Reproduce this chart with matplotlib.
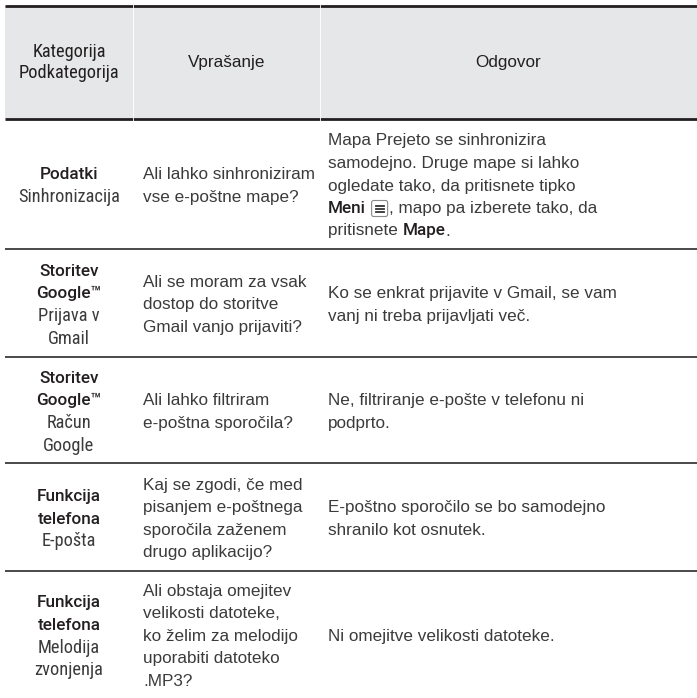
import matplotlib
matplotlib.use("Agg")
import matplotlib.pyplot as plt
from matplotlib import font_manager
from matplotlib.patches import Rectangle, FancyBboxPatch

# table content
headers = ["Kategorija\nPodkategorija", "Vprašanje", "Odgovor"]
categories = [["Podatki"], ["Storitev", "Google™"], ["Storitev", "Google™"],
              ["Funkcija", "telefona"], ["Funkcija", "telefona"]]
subcategories = [["Sinhronizacija"], ["Prijava v", "Gmail"], ["Račun", "Google"],
                 ["E-pošta"], ["Melodija", "zvonjenja"]]
questions = [
    ["Ali lahko sinhroniziram", "vse e-poštne mape?"],
    ["Ali se moram za vsak", "dostop do storitve", "Gmail vanjo prijaviti?"],
    ["Ali lahko filtriram", "e-poštna sporočila?"],
    ["Kaj se zgodi, če med", "pisanjem e-poštnega", "sporočila zaženem", "drugo aplikacijo?"],
    ["Ali obstaja omejitev", "velikosti datoteke,", "ko želim za melodijo",
     "uporabiti datoteko", ".MP3?"],
]
answers = [
    ["Mapa Prejeto se sinhronizira", "samodejno. Druge mape si lahko",
     "ogledate tako, da pritisnete tipko", "**Meni** [=], mapo pa izberete tako, da",
     "pritisnete **Mape**."],
    ["Ko se enkrat prijavite v Gmail, se vam", "vanj ni treba prijavljati več."],
    ["Ne, filtriranje e-pošte v telefonu ni", "podprto."],
    ["E-poštno sporočilo se bo samodejno", "shranilo kot osnutek."],
    ["Ni omejitve velikosti datoteke."],
]

# layout (pixels)
W, H = 697, 698
left = 5
col_x = [left, 133, 320, W]
head_top, head_bot = 6, 119
row_edges = [119, 249, 357, 463, 571, 698]
pitch = 22.5
fs = 12.3
fs_narrow = 13.2
txt_col = "#3b3b3b"

# pick fonts that exist
faces = {(f.name, f.weight) for f in font_manager.fontManager.ttflist}
names = {f[0] for f in faces}
body_font = "Liberation Sans"

narrow_font = body_font
for nm in ["Liberation Sans Narrow", "Roboto Condensed", "Archivo Narrow",
           "PT Sans Narrow", "Open Sans Condensed"]:
    if nm in names:
        narrow_font = nm
        break

bold_font, bold_w = body_font, "bold"
for nm in ["Roboto", "Inter", "Noto Sans"]:
    if (nm, 500) in faces:
        bold_font, bold_w = nm, 500
        break

fig = plt.figure(figsize=(W / 100, H / 100), dpi=100)
ax = fig.add_axes([0, 0, 1, 1])
ax.set_xlim(0, W)
ax.set_ylim(H, 0)
ax.axis("off")
renderer = fig.canvas.get_renderer()

# header
ax.add_patch(Rectangle((left, head_top), W - left, head_bot - head_top,
                       facecolor="#e6e7e8", edgecolor="none"))
ax.plot([left, W], [head_top, head_top], color="#231f20", lw=2.0, solid_capstyle="butt")
ax.plot([left, W], [head_bot, head_bot], color="#231f20", lw=2.0, solid_capstyle="butt")
for x in col_x[1:3]:
    ax.plot([x, x], [head_top - 2, head_bot + 2], color="white", lw=0.6)
hy = (head_top + head_bot) / 2
ax.text((col_x[0] + col_x[1]) / 2, hy, headers[0], ha="center", va="center",
        fontsize=fs_narrow, family=narrow_font, color="#231f20", linespacing=1.25)
ax.text((col_x[1] + col_x[2]) / 2, hy, headers[1], ha="center", va="center",
        fontsize=fs, family=body_font, color="#231f20")
ax.text((col_x[2] + col_x[3]) / 2, hy, headers[2], ha="center", va="center",
        fontsize=fs, family=body_font, color="#231f20")

# row separators
for y in row_edges[1:-1]:
    ax.plot([left, W], [y, y], color="#3a3a3a", lw=1.3, solid_capstyle="butt")


def line_ys(center, n):
    return [center + (i - (n - 1) / 2) * pitch for i in range(n)]


def menu_icon(x, y):
    s = 16
    ax.add_patch(FancyBboxPatch((x + 1, y - s / 2), s, s, boxstyle="round,pad=0,rounding_size=2",
                                facecolor="white", edgecolor="#8a8a8a", lw=0.8))
    for dy in (-3, 0, 3):
        ax.plot([x + 5, x + s - 3], [y + dy, y + dy], color="#333333", lw=1.3)
    return s + 2


def rich_line(x, y, line):
    parts = line.split("**")
    for k, part in enumerate(parts):
        bold = k % 2 == 1
        for j, piece in enumerate(part.split("[=]")):
            if j > 0:
                x += menu_icon(x, y)
            if piece:
                t = ax.text(x, y, piece, ha="left", va="center", fontsize=fs,
                            family=bold_font if bold else body_font,
                            fontweight=bold_w if bold else "normal",
                            color="#231f20" if bold else txt_col)
                x += t.get_window_extent(renderer).width


for r in range(len(questions)):
    cy = (row_edges[r] + row_edges[r + 1]) / 2 + 2
    cat_lines = [(s, True) for s in categories[r]] + [(s, False) for s in subcategories[r]]
    for (s, bold), y in zip(cat_lines, line_ys(cy, len(cat_lines))):
        ax.text((col_x[0] + col_x[1]) / 2, y, s, ha="center", va="center",
                fontsize=fs if bold else fs_narrow,
                family=bold_font if bold else narrow_font,
                fontweight=bold_w if bold else "normal",
                color="#231f20" if bold else txt_col)
    for s, y in zip(questions[r], line_ys(cy, len(questions[r]))):
        ax.text(col_x[1] + 10, y, s, ha="left", va="center", fontsize=fs,
                family=body_font, color=txt_col)
    for s, y in zip(answers[r], line_ys(cy, len(answers[r]))):
        rich_line(col_x[2] + 8, y, s)

fig.savefig("out.png", dpi=100, facecolor="white")
